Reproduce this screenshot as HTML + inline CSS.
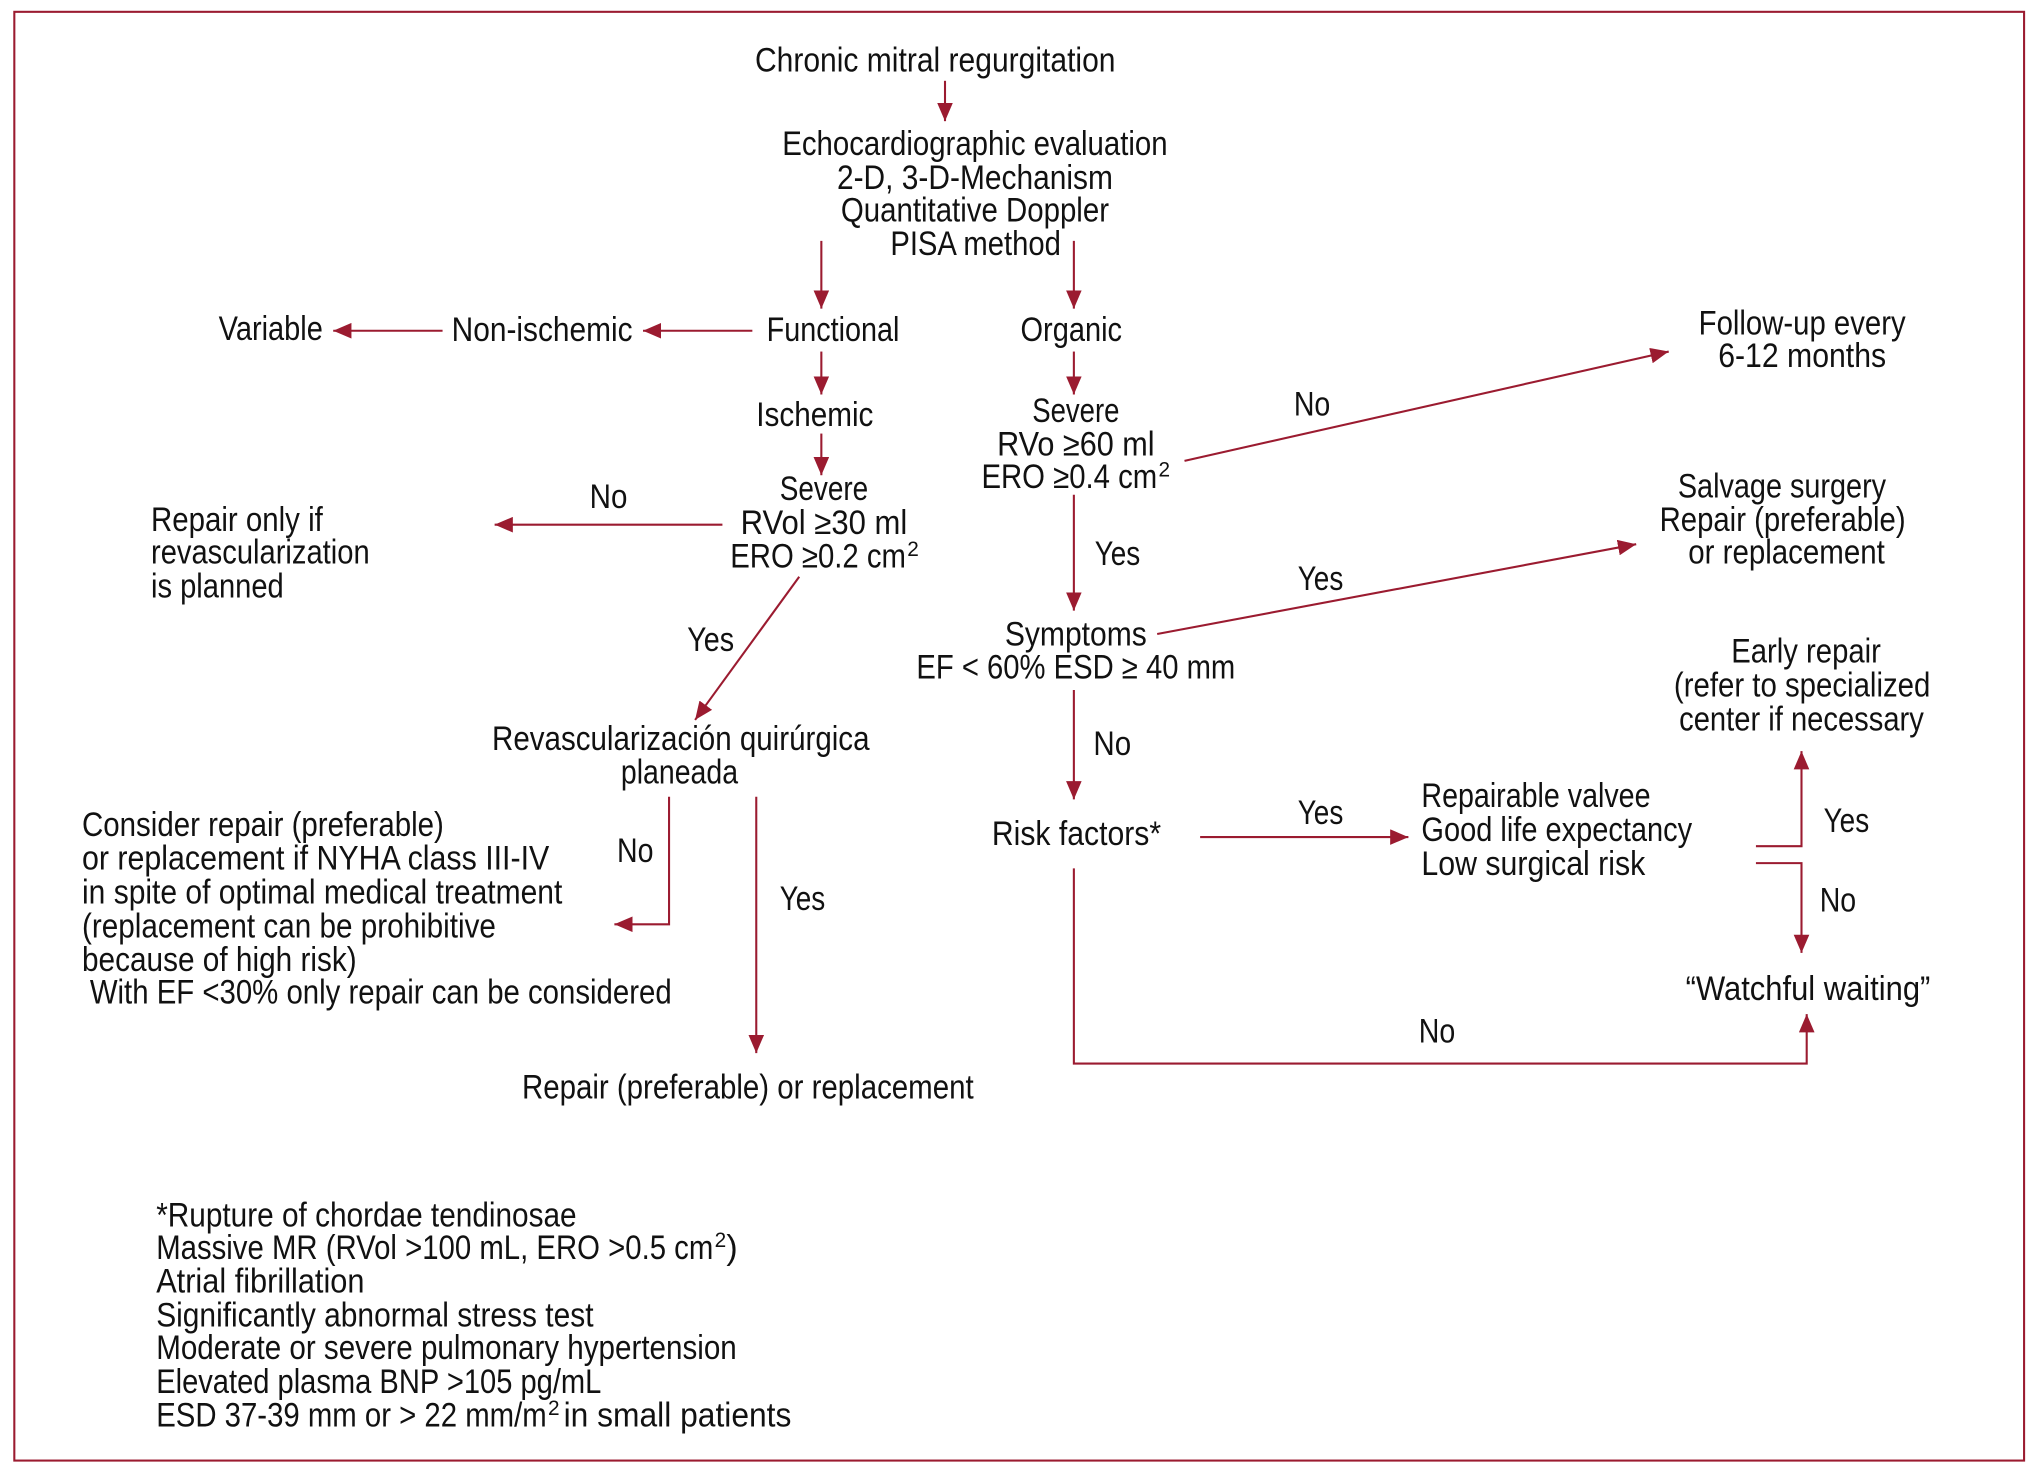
<!DOCTYPE html>
<html><head><meta charset="utf-8"><style>
html,body{margin:0;padding:0;background:#fff}
svg{display:block}
text{font-family:"Liberation Sans Narrow","Liberation Sans",sans-serif;font-size:26px;fill:#111}
.s{font-size:16px}
</style></head><body>
<svg width="2041" height="1475" viewBox="0 0 1568 1133" xmlns="http://www.w3.org/2000/svg">
<defs><marker id="a" markerUnits="userSpaceOnUse" markerWidth="16" markerHeight="12" refX="14" refY="6" orient="auto"><path d="M0,0 L14,6 L0,12 z" fill="#9b1b30"/></marker></defs>
<rect x="11" y="9" width="1544" height="1113" fill="none" stroke="#9b1b30" stroke-width="1.6"/>
<g stroke="#9b1b30" stroke-width="1.6" fill="none" marker-end="url(#a)">
<line x1="726" y1="62" x2="726" y2="93"/>
<line x1="631" y1="185" x2="631" y2="237"/>
<line x1="825" y1="185" x2="825" y2="237"/>
<line x1="578" y1="254" x2="494" y2="254"/>
<line x1="340" y1="254" x2="256" y2="254"/>
<line x1="631" y1="270" x2="631" y2="303"/>
<line x1="631" y1="333" x2="631" y2="365"/>
<line x1="555" y1="403" x2="380" y2="403"/>
<line x1="614" y1="443" x2="534" y2="553"/>
<polyline points="514,612 514,710 472,710"/>
<line x1="581" y1="612" x2="581" y2="809"/>
<line x1="825" y1="270" x2="825" y2="303"/>
<line x1="910" y1="354" x2="1282" y2="270"/>
<line x1="825" y1="380" x2="825" y2="469"/>
<line x1="889" y1="487" x2="1257" y2="418"/>
<line x1="825" y1="530" x2="825" y2="614"/>
<line x1="922" y1="643" x2="1082" y2="643"/>
<polyline points="1349,650 1384,650 1384,577"/>
<polyline points="1349,663 1384,663 1384,732"/>
<polyline points="825,667 825,817 1388,817 1388,779"/>
</g>
<text x="580" y="55" textLength="277" lengthAdjust="spacingAndGlyphs">Chronic mitral regurgitation</text>
<text x="601" y="119" textLength="296" lengthAdjust="spacingAndGlyphs">Echocardiographic evaluation</text>
<text x="643" y="145" textLength="212" lengthAdjust="spacingAndGlyphs">2-D, 3-D-Mechanism</text>
<text x="646" y="170" textLength="206" lengthAdjust="spacingAndGlyphs">Quantitative Doppler</text>
<text x="684" y="196" textLength="131" lengthAdjust="spacingAndGlyphs">PISA method</text>
<text x="589" y="262" textLength="102" lengthAdjust="spacingAndGlyphs">Functional</text>
<text x="784" y="262" textLength="78" lengthAdjust="spacingAndGlyphs">Organic</text>
<text x="347" y="262" textLength="139" lengthAdjust="spacingAndGlyphs">Non-ischemic</text>
<text x="168" y="261" textLength="80" lengthAdjust="spacingAndGlyphs">Variable</text>
<text x="581" y="327" textLength="90" lengthAdjust="spacingAndGlyphs">Ischemic</text>
<text x="599" y="384" textLength="68" lengthAdjust="spacingAndGlyphs">Severe</text>
<text x="569" y="410" textLength="128" lengthAdjust="spacingAndGlyphs">RVol ≥30 ml</text>
<text x="561" y="436" textLength="135" lengthAdjust="spacingAndGlyphs">ERO ≥0.2 cm</text>
<text class="s" x="697" y="427">2</text>
<text x="453" y="390" textLength="29" lengthAdjust="spacingAndGlyphs">No</text>
<text x="116" y="408" textLength="132" lengthAdjust="spacingAndGlyphs">Repair only if</text>
<text x="116" y="433" textLength="168" lengthAdjust="spacingAndGlyphs">revascularization</text>
<text x="116" y="459" textLength="102" lengthAdjust="spacingAndGlyphs">is planned</text>
<text x="528" y="500" textLength="36" lengthAdjust="spacingAndGlyphs">Yes</text>
<text x="378" y="576" textLength="290" lengthAdjust="spacingAndGlyphs">Revascularización quirúrgica</text>
<text x="477" y="602" textLength="90" lengthAdjust="spacingAndGlyphs">planeada</text>
<text x="474" y="662" textLength="28" lengthAdjust="spacingAndGlyphs">No</text>
<text x="599" y="699" textLength="35" lengthAdjust="spacingAndGlyphs">Yes</text>
<text x="63" y="642" textLength="278" lengthAdjust="spacingAndGlyphs">Consider repair (preferable)</text>
<text x="63" y="668" textLength="359" lengthAdjust="spacingAndGlyphs">or replacement if  NYHA class III-IV</text>
<text x="63" y="694" textLength="369" lengthAdjust="spacingAndGlyphs">in spite of optimal medical treatment</text>
<text x="63" y="720" textLength="318" lengthAdjust="spacingAndGlyphs">(replacement can be prohibitive</text>
<text x="63" y="746" textLength="211" lengthAdjust="spacingAndGlyphs">because of high risk)</text>
<text x="69" y="771" textLength="447" lengthAdjust="spacingAndGlyphs">With EF &lt;30% only repair can be considered</text>
<text x="401" y="844" textLength="347" lengthAdjust="spacingAndGlyphs">Repair (preferable) or replacement</text>
<text x="793" y="324" textLength="67" lengthAdjust="spacingAndGlyphs">Severe</text>
<text x="766" y="350" textLength="121" lengthAdjust="spacingAndGlyphs">RVo ≥60 ml</text>
<text x="754" y="375" textLength="135" lengthAdjust="spacingAndGlyphs">ERO ≥0.4 cm</text>
<text class="s" x="890" y="366">2</text>
<text x="994" y="319" textLength="28" lengthAdjust="spacingAndGlyphs">No</text>
<text x="1305" y="257" textLength="159" lengthAdjust="spacingAndGlyphs">Follow-up every</text>
<text x="1320" y="282" textLength="129" lengthAdjust="spacingAndGlyphs">6-12 months</text>
<text x="841" y="434" textLength="35" lengthAdjust="spacingAndGlyphs">Yes</text>
<text x="772" y="496" textLength="109" lengthAdjust="spacingAndGlyphs">Symptoms</text>
<text x="704" y="521" textLength="245" lengthAdjust="spacingAndGlyphs">EF &lt; 60% ESD ≥ 40 mm</text>
<text x="997" y="453" textLength="35" lengthAdjust="spacingAndGlyphs">Yes</text>
<text x="1289" y="382" textLength="160" lengthAdjust="spacingAndGlyphs">Salvage surgery</text>
<text x="1275" y="408" textLength="189" lengthAdjust="spacingAndGlyphs">Repair (preferable)</text>
<text x="1297" y="433" textLength="151" lengthAdjust="spacingAndGlyphs">or replacement</text>
<text x="840" y="580" textLength="29" lengthAdjust="spacingAndGlyphs">No</text>
<text x="762" y="649" textLength="130" lengthAdjust="spacingAndGlyphs">Risk factors*</text>
<text x="997" y="633" textLength="35" lengthAdjust="spacingAndGlyphs">Yes</text>
<text x="1092" y="620" textLength="176" lengthAdjust="spacingAndGlyphs">Repairable valvee</text>
<text x="1092" y="646" textLength="208" lengthAdjust="spacingAndGlyphs">Good life expectancy</text>
<text x="1092" y="672" textLength="172" lengthAdjust="spacingAndGlyphs">Low surgical risk</text>
<text x="1401" y="639" textLength="35" lengthAdjust="spacingAndGlyphs">Yes</text>
<text x="1398" y="700" textLength="28" lengthAdjust="spacingAndGlyphs">No</text>
<text x="1330" y="509" textLength="115" lengthAdjust="spacingAndGlyphs">Early repair</text>
<text x="1286" y="535" textLength="197" lengthAdjust="spacingAndGlyphs">(refer to specialized</text>
<text x="1290" y="561" textLength="188" lengthAdjust="spacingAndGlyphs">center if necessary</text>
<text x="1295" y="768" textLength="188" lengthAdjust="spacingAndGlyphs">“Watchful waiting”</text>
<text x="1090" y="801" textLength="28" lengthAdjust="spacingAndGlyphs">No</text>
<text x="120" y="942" textLength="323" lengthAdjust="spacingAndGlyphs">*Rupture of chordae tendinosae</text>
<text x="120" y="967" textLength="428" lengthAdjust="spacingAndGlyphs">Massive MR (RVol &gt;100 mL, ERO &gt;0.5 cm</text>
<text class="s" x="549" y="958">2</text>
<text x="558" y="967">)</text>
<text x="120" y="993" textLength="160" lengthAdjust="spacingAndGlyphs">Atrial fibrillation</text>
<text x="120" y="1019" textLength="336" lengthAdjust="spacingAndGlyphs">Significantly abnormal stress test</text>
<text x="120" y="1044" textLength="446" lengthAdjust="spacingAndGlyphs">Moderate or severe pulmonary hypertension</text>
<text x="120" y="1070" textLength="342" lengthAdjust="spacingAndGlyphs">Elevated plasma BNP &gt;105 pg/mL</text>
<text x="120" y="1096" textLength="300" lengthAdjust="spacingAndGlyphs">ESD 37-39 mm or &gt; 22 mm/m</text>
<text class="s" x="421" y="1087">2</text>
<text x="433" y="1096" textLength="175" lengthAdjust="spacingAndGlyphs">in small patients</text>
</svg>
</body></html>
